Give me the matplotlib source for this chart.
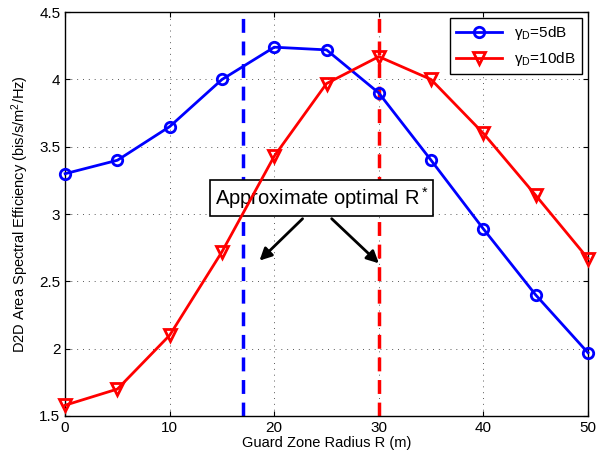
import numpy as np
import matplotlib
matplotlib.use('Agg')
import matplotlib.pyplot as plt

plt.rcParams['font.family'] = ['Liberation Sans', 'DejaVu Sans']
plt.rcParams['mathtext.fontset'] = 'custom'
plt.rcParams['mathtext.rm'] = 'Liberation Sans'
plt.rcParams['mathtext.it'] = 'Liberation Sans:italic'

R = [0, 5, 10, 15, 20, 25, 30, 35, 40, 45, 50]
eff_5dB = [3.3, 3.4, 3.65, 4.0, 4.24, 4.22, 3.9, 3.4, 2.89, 2.4, 1.97]
eff_10dB = [1.58, 1.7, 2.1, 2.72, 3.43, 3.97, 4.17, 4.0, 3.6, 3.14, 2.67]
ropt_5dB = 17
ropt_10dB = 30
labels = [r'$\mathrm{\gamma_D}$=5dB', r'$\mathrm{\gamma_D}$=10dB']

fig = plt.figure(figsize=(6.03, 4.62), dpi=100)
ax = fig.add_axes([0.108, 0.0996, 0.867, 0.874])

ax.plot(R, eff_5dB, '-o', color='blue', lw=2, ms=7.5, mfc='none', mew=2, label=labels[0], clip_on=False, zorder=5)
ax.plot(R, eff_10dB, '-v', color='red', lw=2, ms=9, mfc='none', mew=2, label=labels[1], clip_on=False, zorder=5)
ax.axvline(ropt_5dB, color='blue', ls='--', lw=2.5, dashes=(4, 2.5))
ax.axvline(ropt_10dB, color='red', ls='--', lw=2.5, dashes=(4, 2.5))

ax.set_xlim(0, 50)
ax.set_ylim(1.5, 4.5)
ax.set_xticks(np.arange(0, 51, 10))
ax.set_yticks(np.arange(1.5, 4.51, 0.5))
ax.set_yticklabels(['1.5', '2', '2.5', '3', '3.5', '4', '4.5'])
ax.grid(True, ls=(0, (1, 5)), color='0.35', lw=0.7)
ax.tick_params(direction='in', labelsize=11, top=True, right=True)
for s in ax.spines.values():
    s.set_linewidth(1)

ax.set_xlabel('Guard Zone Radius R (m)', fontsize=10.5, labelpad=1)
ax.set_ylabel(r'D2D Area Spectral Efficiency (bis/s/m$^2$/Hz)', fontsize=10.5, labelpad=6)

ax.text(24.5, 3.12, r'Approximate optimal R$^*$', fontsize=14.5, ha='center', va='center',
        bbox=dict(boxstyle='square,pad=0.25', fc='white', ec='black', lw=1.2))
ax.annotate('', xy=(18.4, 2.64), xytext=(22.9, 2.98),
            arrowprops=dict(arrowstyle='-|>', color='black', lw=2, mutation_scale=18))
ax.annotate('', xy=(30.2, 2.62), xytext=(25.3, 2.98),
            arrowprops=dict(arrowstyle='-|>', color='black', lw=2, mutation_scale=18))

leg = ax.legend(loc='upper right', fontsize=11, fancybox=False, edgecolor='black',
                framealpha=1, handlelength=3, borderaxespad=0.4)
leg.get_frame().set_linewidth(1)

fig.savefig('out.png', dpi=100)
